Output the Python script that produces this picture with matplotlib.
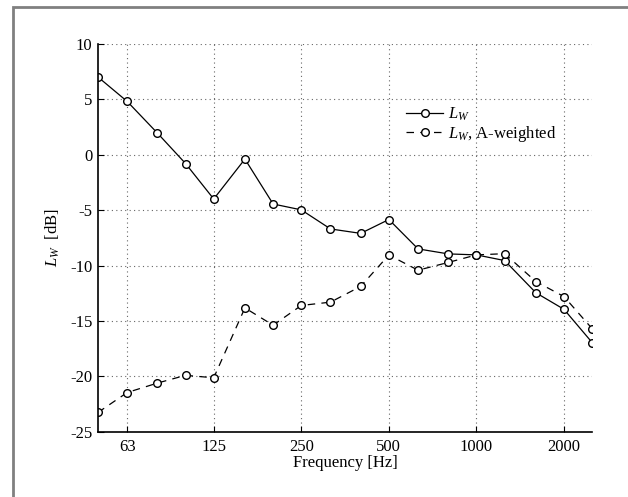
import matplotlib
matplotlib.use('Agg')
import matplotlib.pyplot as plt
from matplotlib.patches import Rectangle

# Data (third-octave bands)
freq = [50, 63, 80, 100, 125, 160, 200, 250, 315, 400, 500, 630, 800, 1000, 1250, 1600, 2000, 2500]
lw = [7.0, 4.8, 1.95, -0.8, -4.0, -0.4, -4.45, -4.98, -6.7, -7.1, -5.85, -8.5, -8.95, -9.04, -9.55, -12.45, -13.95, -16.95]
lw_a = [-23.25, -21.45, -20.6, -19.9, -20.12, -13.82, -15.38, -13.6, -13.3, -11.88, -9.05, -10.42, -9.72, -9.04, -8.93, -11.44, -12.8, -15.7]
xtick_vals = [63, 125, 250, 500, 1000, 2000]
ytick_vals = list(range(-25, 11, 5))

plt.rcParams['font.family'] = 'Liberation Serif'
plt.rcParams['mathtext.fontset'] = 'custom'
plt.rcParams['mathtext.rm'] = 'Liberation Serif'
plt.rcParams['mathtext.it'] = 'Liberation Serif:italic'
plt.rcParams['axes.unicode_minus'] = False
font_size = 12

fig = plt.figure(figsize=(6.28, 4.97), dpi=100)
ax = fig.add_axes([0.156, 0.131, 0.787, 0.781])

# outer gray frame
fig.patches.append(Rectangle((13 / 628, -0.1), 1.2, 1 - 7 / 497 + 0.1, transform=fig.transFigure,
                             fill=False, edgecolor='#808080', linewidth=2, clip_on=False))

ax.plot(freq, lw, '-', color='black', linewidth=0.9, marker='o', markersize=5.5,
        markerfacecolor='white', markeredgecolor='black', markeredgewidth=1, label='$L_W$')
ax.plot(freq, lw_a, '--', color='black', linewidth=0.9, dashes=(6, 5), marker='o', markersize=5.5,
        markerfacecolor='white', markeredgecolor='black', markeredgewidth=1, label='$L_W$, A-weighted')

ax.set_xscale('log')
ax.set_xlim(50, 2500)
ax.set_ylim(-25, 10)
ax.set_xticks(xtick_vals)
ax.set_xticklabels([str(v) for v in xtick_vals])
ax.xaxis.set_minor_locator(matplotlib.ticker.NullLocator())
ax.set_yticks(ytick_vals)
ax.tick_params(direction='in', length=4, width=0.8, labelsize=font_size)
ax.tick_params(axis='x', pad=5)
ax.tick_params(axis='y', pad=4)

ax.grid(True, linestyle=(0, (1, 3)), linewidth=0.8, color='#666666')
ax.spines['top'].set_visible(False)
ax.spines['right'].set_visible(False)
ax.spines['left'].set_linewidth(1.2)
ax.spines['bottom'].set_linewidth(1.2)

ax.set_xlabel('Frequency [Hz]', fontsize=font_size, labelpad=0)
ax.set_ylabel('$L_W$  [dB]', fontsize=font_size, labelpad=6)

ax.legend(loc='upper left', bbox_to_anchor=(0.6, 0.87), frameon=False, fontsize=font_size,
          handlelength=2.2, handletextpad=0.3, labelspacing=0.05, borderpad=0.2)

plt.savefig('out.png', dpi=100)
